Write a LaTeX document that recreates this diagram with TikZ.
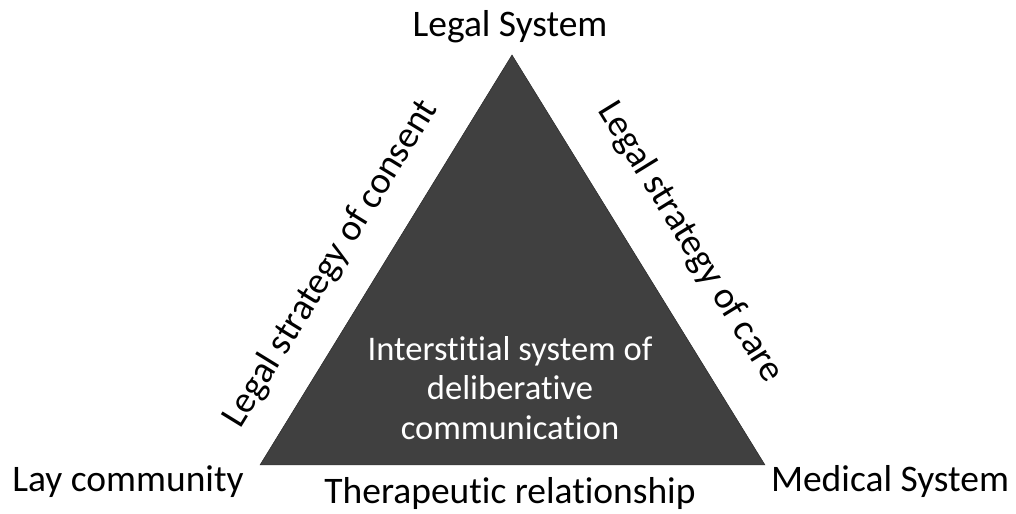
\documentclass[tikz,border=0pt]{standalone}
\usepackage{fontspec}
\setmainfont[Ligatures=NoCommon]{Carlito}
\begin{document}
\begin{tikzpicture}[x=0.03cm, y=0.03cm,
        sidetext/.style={font=\fontsize{32}{38}\selectfont, inner sep=0pt}]
        \useasboundingbox (0,0) rectangle (1016,514);

        % Corners of the triangle
        \coordinate (legal) at (512,459);
        \coordinate (lay) at (260,49);
        \coordinate (medical) at (765,49);

        % Interstitial system in the middle
        \draw[fill=black!75, draw=black!85] (lay) -- (legal) -- (medical) -- cycle;
        \node[sidetext, font=\fontsize{29.5}{34}\selectfont, white, align=center] (inner) at (510,126) {Interstitial system of\\deliberative\\communication};

        % Systems at the corners
        \node[sidetext, anchor=base] (legalsys) at (510,477) {Legal System};
        \node[sidetext, anchor=base] (laycom) at (128,22) {Lay community};
        \node[sidetext, anchor=base] (medsys) at (890,22) {Medical System};

        % Strategies along the sides
        \node[sidetext, rotate=58.4] (consent) at (331,250) {Legal strategy of consent};
        \node[sidetext, rotate=-58.4] (care) at (690,272) {Legal strategy of care};
        \node[sidetext, anchor=base] (therapy) at (510,10) {Therapeutic relationship};
    \end{tikzpicture}
\end{document}
